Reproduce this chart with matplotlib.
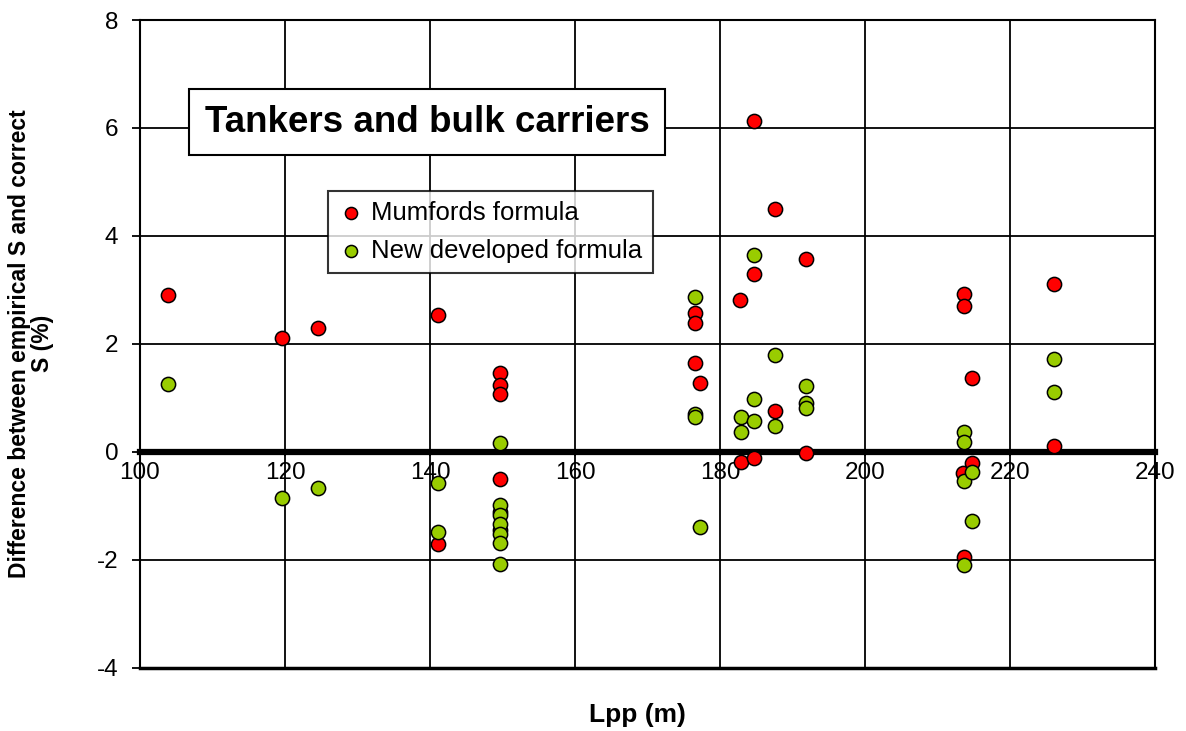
import matplotlib.pyplot as plt

plt.rcParams['font.family'] = ['Liberation Sans', 'DejaVu Sans']
plt.rcParams['axes.unicode_minus'] = False

# Mumfords formula
lpp_mumford = [103.9, 119.6, 124.5, 141.1, 141.1,
               149.6, 149.6, 149.6, 149.6, 149.6, 149.6,
               176.5, 176.5, 176.5, 177.3, 182.8, 182.9,
               184.7, 184.7, 184.7, 187.6, 187.6, 191.9, 191.9,
               213.7, 213.7, 213.5, 213.7, 214.7, 214.7, 226.1, 226.1]
diff_mumford = [2.90, 2.11, 2.30, 2.53, -1.71,
                1.46, 1.24, 1.08, -0.51, -1.11, -1.45,
                2.57, 2.39, 1.65, 1.27, 2.82, -0.18,
                6.13, 3.29, -0.11, 4.49, 0.76, 3.57, -0.03,
                2.93, 2.70, -0.40, -1.94, 1.36, -0.20, 3.11, 0.11]

# New developed formula
lpp_new = [103.9, 119.6, 124.5, 141.1, 141.1,
           149.6, 149.6, 149.6, 149.6, 149.6, 149.6, 149.6,
           176.5, 176.5, 176.5, 177.3, 182.9, 182.9,
           184.7, 184.7, 184.7, 187.6, 187.6, 191.9, 191.9, 191.9,
           213.7, 213.7, 213.7, 213.7, 214.7, 214.7, 226.1, 226.1]
diff_new = [1.25, -0.86, -0.67, -0.57, -1.48,
            0.17, -0.99, -1.17, -1.34, -1.52, -1.69, -2.07,
            2.86, 0.70, 0.65, -1.39, 0.64, 0.36,
            3.64, 0.97, 0.57, 1.79, 0.48, 1.22, 0.91, 0.82,
            0.36, 0.19, -0.54, -2.10, -0.38, -1.28, 1.72, 1.11]

fig = plt.figure(figsize=(11.86, 7.31), dpi=100)
ax = fig.add_axes([0.118, 0.0866, 0.856, 0.886])

ax.scatter(lpp_mumford, diff_mumford, s=105, c='#FF0000', edgecolors='black',
           linewidths=1.1, label='Mumfords formula', zorder=3)
ax.scatter(lpp_new, diff_new, s=105, c='#99CC00', edgecolors='black',
           linewidths=1.1, label='New developed formula', zorder=4)

ax.set_xlim(100, 240)
ax.set_ylim(-4, 8)
ax.set_xticks(range(100, 241, 20))
ax.set_yticks(range(-4, 9, 2))
ax.grid(True, color='black', linewidth=1.3)
ax.set_axisbelow(True)

# x axis sits on the zero line
ax.spines['bottom'].set_position(('data', 0))
ax.spines['bottom'].set_linewidth(4.5)
for s in ['left', 'top', 'right']:
    ax.spines[s].set_linewidth(1.5)
ax.axhline(-4, color='black', linewidth=2.5, clip_on=False, zorder=2)

ax.tick_params(axis='both', labelsize=17.5, color='black', width=1.3)
ax.tick_params(axis='y', length=6, pad=9.5)
ax.tick_params(axis='x', direction='out', length=3, pad=4)

ax.set_xlabel('Lpp (m)', fontsize=19, fontweight='bold')
ax.xaxis.set_label_coords(0.49, -0.055)
ax.set_ylabel('Difference between empirical S and correct\nS (%)',
              fontsize=16.5, fontweight='bold', linespacing=1.0)
ax.yaxis.set_label_coords(-0.0845, 0.5)

ax.text(0.283, 0.8425, 'Tankers and bulk carriers', transform=ax.transAxes,
        fontsize=26.5, fontweight='bold', ha='center', va='center',
        bbox=dict(boxstyle='square,pad=0.42', facecolor='white',
                  edgecolor='black', linewidth=1.5), zorder=6)

leg = ax.legend(loc='upper left', bbox_to_anchor=(0.185, 0.7365),
                borderaxespad=0, fontsize=18.5, frameon=True, fancybox=False,
                handletextpad=0.3, handlelength=1.0, markerscale=0.85,
                borderpad=0.4, labelspacing=0.55)
leg.get_frame().set_edgecolor('black')
leg.get_frame().set_linewidth(1.5)
leg.set_zorder(6)

plt.savefig('out.png', dpi=100)
